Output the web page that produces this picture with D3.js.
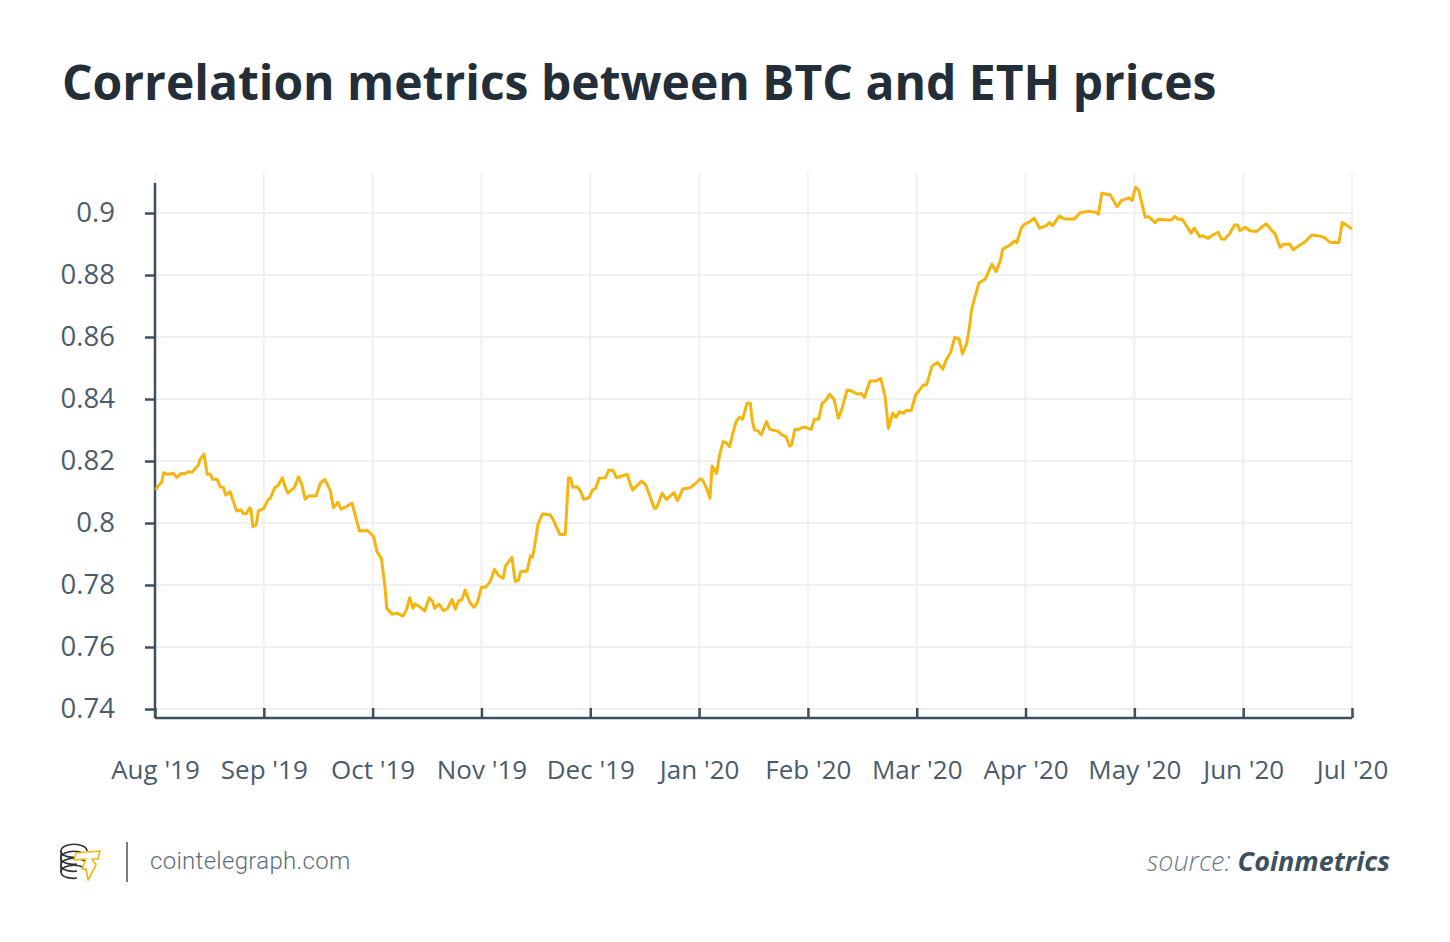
<!DOCTYPE html>
<html>
<head>
<meta charset="utf-8">
<script src="https://cdn.jsdelivr.net/npm/d3@7"></script>
<style>
	body { margin: 0; background: #fff; }
	svg { display: block; font-family: 'Open Sans', sans-serif; }
</style>
</head>
<body>
<svg id="chart" width="1450" height="942"></svg>
<script>
const TITLE = 'Correlation metrics between BTC and ETH prices'

const months = ["Aug '19", "Sep '19", "Oct '19", "Nov '19", "Dec '19", "Jan '20",
	"Feb '20", "Mar '20", "Apr '20", "May '20", "Jun '20", "Jul '20"]

const yTicks = [0.74, 0.76, 0.78, 0.8, 0.82, 0.84, 0.86, 0.88, 0.9]

// position in months since Aug '19 (axis months are evenly spaced)
const monthPos = [
	0.01, 0.02, 0.06, 0.08, 0.12, 0.17, 0.20, 0.24, 0.28, 0.30, 0.34, 0.37, 0.40, 0.41, 0.45, 0.48,
	0.51, 0.53, 0.57, 0.60, 0.63, 0.65, 0.69, 0.72, 0.75, 0.79, 0.81, 0.84, 0.87, 0.88, 0.90, 0.93,
	0.95, 1.00, 1.04, 1.06, 1.10, 1.13, 1.17, 1.19, 1.22, 1.26, 1.28, 1.32, 1.35, 1.38, 1.41, 1.48,
	1.52, 1.56, 1.61, 1.64, 1.68, 1.71, 1.76, 1.81, 1.88, 1.95, 2.01, 2.04, 2.08, 2.11, 2.13, 2.18,
	2.22, 2.28, 2.31, 2.34, 2.37, 2.39, 2.44, 2.48, 2.52, 2.55, 2.57, 2.61, 2.65, 2.69, 2.73, 2.76,
	2.79, 2.82, 2.85, 2.89, 2.93, 2.96, 3.00, 3.04, 3.08, 3.12, 3.16, 3.20, 3.22, 3.28, 3.31, 3.34,
	3.36, 3.42, 3.45, 3.47, 3.49, 3.52, 3.56, 3.63, 3.66, 3.72, 3.77, 3.80, 3.82, 3.84, 3.88, 3.91,
	3.94, 3.99, 4.02, 4.05, 4.08, 4.14, 4.17, 4.21, 4.24, 4.32, 4.34, 4.37, 4.39, 4.47, 4.51, 4.55,
	4.59, 4.61, 4.66, 4.70, 4.77, 4.80, 4.82, 4.85, 4.92, 4.96, 5.01, 5.03, 5.07, 5.10, 5.12, 5.16,
	5.19, 5.22, 5.25, 5.28, 5.31, 5.34, 5.37, 5.40, 5.44, 5.47, 5.49, 5.51, 5.54, 5.57, 5.62, 5.65,
	5.70, 5.73, 5.76, 5.80, 5.83, 5.85, 5.88, 5.91, 5.96, 5.99, 6.03, 6.06, 6.10, 6.13, 6.16, 6.20,
	6.24, 6.28, 6.31, 6.36, 6.40, 6.45, 6.49, 6.52, 6.57, 6.63, 6.67, 6.71, 6.74, 6.78, 6.81, 6.84,
	6.88, 6.90, 6.95, 6.99, 7.06, 7.09, 7.14, 7.19, 7.24, 7.27, 7.31, 7.35, 7.39, 7.42, 7.46, 7.49,
	7.50, 7.53, 7.57, 7.63, 7.69, 7.73, 7.77, 7.79, 7.86, 7.90, 7.92, 7.96, 7.99, 8.03, 8.08, 8.13,
	8.19, 8.22, 8.25, 8.31, 8.36, 8.45, 8.50, 8.58, 8.65, 8.67, 8.70, 8.78, 8.84, 8.88, 8.95, 8.98,
	9.01, 9.04, 9.10, 9.13, 9.19, 9.22, 9.34, 9.37, 9.40, 9.44, 9.48, 9.52, 9.55, 9.60, 9.63, 9.68,
	9.72, 9.77, 9.80, 9.83, 9.88, 9.92, 9.95, 9.97, 10.02, 10.06, 10.12, 10.21, 10.26, 10.29, 10.34, 10.37,
	10.43, 10.46, 10.51, 10.57, 10.63, 10.68, 10.74, 10.80, 10.88, 10.91, 10.95, 11.00
]

const corr = [
	0.8106, 0.8117, 0.8130, 0.8162, 0.8157, 0.8160, 0.8147, 0.8160, 0.8159, 0.8165, 0.8164, 0.8176, 0.8187, 0.8203, 0.8222, 0.8157,
	0.8157, 0.8141, 0.8141, 0.8117, 0.8114, 0.8090, 0.8101, 0.8069, 0.8039, 0.8042, 0.8031, 0.8031, 0.8049, 0.8047, 0.7988, 0.7994,
	0.8039, 0.8047, 0.8076, 0.8080, 0.8114, 0.8120, 0.8146, 0.8123, 0.8096, 0.8109, 0.8114, 0.8149, 0.8123, 0.8077, 0.8087, 0.8087,
	0.8128, 0.8141, 0.8106, 0.8049, 0.8067, 0.8045, 0.8053, 0.8064, 0.7974, 0.7976, 0.7956, 0.7907, 0.7886, 0.7805, 0.7725, 0.7706,
	0.7709, 0.7700, 0.7719, 0.7759, 0.7725, 0.7739, 0.7728, 0.7716, 0.7759, 0.7748, 0.7725, 0.7738, 0.7717, 0.7725, 0.7754, 0.7722,
	0.7749, 0.7752, 0.7784, 0.7746, 0.7728, 0.7741, 0.7793, 0.7793, 0.7811, 0.7851, 0.7829, 0.7822, 0.7861, 0.7889, 0.7811, 0.7816,
	0.7843, 0.7845, 0.7894, 0.7891, 0.7929, 0.7997, 0.8029, 0.8027, 0.8010, 0.7963, 0.7963, 0.8146, 0.8144, 0.8115, 0.8117, 0.8103,
	0.8076, 0.8082, 0.8106, 0.8112, 0.8144, 0.8146, 0.8171, 0.8169, 0.8146, 0.8155, 0.8157, 0.8123, 0.8106, 0.8135, 0.8123, 0.8085,
	0.8047, 0.8049, 0.8096, 0.8076, 0.8098, 0.8072, 0.8085, 0.8110, 0.8114, 0.8125, 0.8142, 0.8139, 0.8112, 0.8080, 0.8184, 0.8160,
	0.8222, 0.8262, 0.8259, 0.8246, 0.8289, 0.8327, 0.8341, 0.8335, 0.8386, 0.8386, 0.8327, 0.8300, 0.8298, 0.8284, 0.8327, 0.8302,
	0.8298, 0.8295, 0.8284, 0.8278, 0.8248, 0.8252, 0.8302, 0.8302, 0.8309, 0.8307, 0.8302, 0.8335, 0.8335, 0.8386, 0.8394, 0.8415,
	0.8399, 0.8338, 0.8365, 0.8429, 0.8426, 0.8416, 0.8418, 0.8405, 0.8458, 0.8458, 0.8467, 0.8406, 0.8305, 0.8354, 0.8341, 0.8359,
	0.8354, 0.8363, 0.8363, 0.8413, 0.8445, 0.8445, 0.8506, 0.8518, 0.8496, 0.8526, 0.8549, 0.8599, 0.8593, 0.8545, 0.8580, 0.8644,
	0.8682, 0.8722, 0.8773, 0.8787, 0.8835, 0.8811, 0.8848, 0.8884, 0.8897, 0.8910, 0.8904, 0.8951, 0.8964, 0.8970, 0.8983, 0.8951,
	0.8959, 0.8969, 0.8959, 0.8990, 0.8981, 0.8981, 0.9001, 0.9006, 0.9002, 0.8996, 0.9064, 0.9058, 0.9020, 0.9040, 0.9049, 0.9040,
	0.9083, 0.9074, 0.8986, 0.8988, 0.8969, 0.8980, 0.8977, 0.8989, 0.8980, 0.8980, 0.8958, 0.8935, 0.8951, 0.8924, 0.8926, 0.8918,
	0.8929, 0.8938, 0.8916, 0.8915, 0.8936, 0.8961, 0.8961, 0.8943, 0.8954, 0.8943, 0.8940, 0.8965, 0.8945, 0.8935, 0.8889, 0.8899,
	0.8899, 0.8881, 0.8894, 0.8907, 0.8929, 0.8927, 0.8922, 0.8905, 0.8905, 0.8969, 0.8961, 0.8948
]

const COLORS = {
	title: '#232e38',
	axis: '#3e505d',
	label: '#4a5c6a',
	grid: '#f0f0f0',
	line: '#f5b50e',
	footer: '#5e6e7a',
}

const svg = d3.select('#chart')

const plot = { left: 155, right: 1352, top: 173, bottom: 718, axisTop: 183 }

const x = d3.scaleLinear()
	.domain([0, months.length - 1])
	.range([plot.left, plot.right])

const y = d3.scaleLinear()
	.domain([0.74, 0.9])
	.range([709, 213])

function drawTitle() {
	svg.append('text')
		.attr('x', 62)
		.attr('y', 100)
		.attr('fill', COLORS.title)
		.style('font-size', '48px')
		.style('font-weight', 700)
		.text(TITLE)
}

function drawGrid() {
	const grid = svg.append('g').attr('class', 'grid')

	grid.selectAll('.vline').data(months)
		.enter().append('line')
		.attr('x1', (d, i) => x(i))
		.attr('x2', (d, i) => x(i))
		.attr('y1', plot.top)
		.attr('y2', plot.bottom)
		.attr('stroke', COLORS.grid)
		.attr('stroke-width', 2)

	grid.selectAll('.hline').data(yTicks)
		.enter().append('line')
		.attr('x1', plot.left)
		.attr('x2', plot.right)
		.attr('y1', d => y(d))
		.attr('y2', d => y(d))
		.attr('stroke', COLORS.grid)
		.attr('stroke-width', 2)
}

function drawAxes() {
	const yAxis = svg.append('g')
		.attr('transform', `translate(${plot.left},0)`)
		.call(d3.axisLeft(y)
			.tickValues(yTicks)
			.tickSize(10)
			.tickSizeOuter(0)
			.tickPadding(30)
			.tickFormat(d => String(+d.toFixed(2))))

	// axis line runs a bit past the ticks on both ends
	yAxis.select('.domain')
		.attr('d', `M0,${plot.axisTop}V${plot.bottom}`)

	const xAxis = svg.append('g')
		.attr('transform', `translate(0,${plot.bottom})`)
		.call(d3.axisBottom(x)
			.tickValues(d3.range(months.length))
			.tickSize(-10)
			.tickSizeOuter(0)
			.tickPadding(52)
			.tickFormat(i => months[i]))

	xAxis.select('.domain')
		.attr('d', `M${plot.left},0H${plot.right}`)

	svg.selectAll('.domain, .tick line')
		.attr('stroke', COLORS.axis)
		.attr('stroke-width', 2.5)

	svg.selectAll('.tick text')
		.attr('fill', COLORS.label)
		.style('font-family', "'Open Sans', sans-serif")

	yAxis.selectAll('.tick text').style('font-size', '27.5px')
	xAxis.selectAll('.tick text')
		.style('font-size', '26px')
		.attr('dy', '0.35em')
}

function drawLine() {
	const points = monthPos.map((t, i) => [t, corr[i]])

	const line = d3.line()
		.x(d => x(d[0]))
		.y(d => y(d[1]))
		.curve(d3.curveLinear)

	svg.append('path')
		.datum(points)
		.attr('d', line)
		.attr('fill', 'none')
		.attr('stroke', COLORS.line)
		.attr('stroke-width', 3)
		.attr('stroke-linejoin', 'round')
}

function drawFooter() {
	const logo = svg.append('g')
		.attr('transform', 'translate(60,843)')
		.attr('fill', 'none')
		.attr('stroke-width', 1.6)
		.attr('stroke-linejoin', 'round')

	// coin stack
	const coinR = 13
	d3.range(4).forEach(i => {
		const cy = 8 + i * 7
		logo.append('path')
			.attr('d', `M1,${cy} C1,${cy - 9} ${coinR * 2 + 1},${cy - 9} ${coinR * 2 + 1},${cy}`
				+ ` M1,${cy} C1,${cy + 6} ${coinR},${cy + 7} ${coinR + 4},${cy + 6}`)
			.attr('stroke', '#2d3338')
	})
	logo.append('path')
		.attr('d', 'M1,8 V29')
		.attr('stroke', '#2d3338')

	// lightning T
	logo.append('path')
		.attr('d', 'M16,10 L40,8 L38,16 L32,16 L36,22 L28,37 L26,26 L22,26 L26,16 L14,17 Z')
		.attr('stroke', '#f5b50e')
		.attr('fill', '#fff')

	svg.append('line')
		.attr('x1', 127).attr('x2', 127)
		.attr('y1', 842).attr('y2', 882)
		.attr('stroke', '#7d7d7d')
		.attr('stroke-width', 2)

	svg.append('text')
		.attr('x', 150)
		.attr('y', 869)
		.attr('fill', COLORS.footer)
		.style('font-family', 'Roboto, sans-serif')
		.style('font-weight', 300)
		.style('font-size', '24px')
		.style('letter-spacing', '0.3px')
		.text('cointelegraph.com')

	const src = svg.append('text')
		.attr('x', 1390)
		.attr('y', 871)
		.attr('text-anchor', 'end')
		.style('font-size', '27px')
		.style('font-style', 'italic')

	src.append('tspan')
		.attr('fill', '#6e7c87')
		.style('font-weight', 300)
		.text('source: ')

	src.append('tspan')
		.attr('fill', '#3e505d')
		.style('font-weight', 700)
		.text('Coinmetrics')
}

drawTitle()
drawGrid()
drawAxes()
drawLine()
drawFooter()
</script>
</body>
</html>
